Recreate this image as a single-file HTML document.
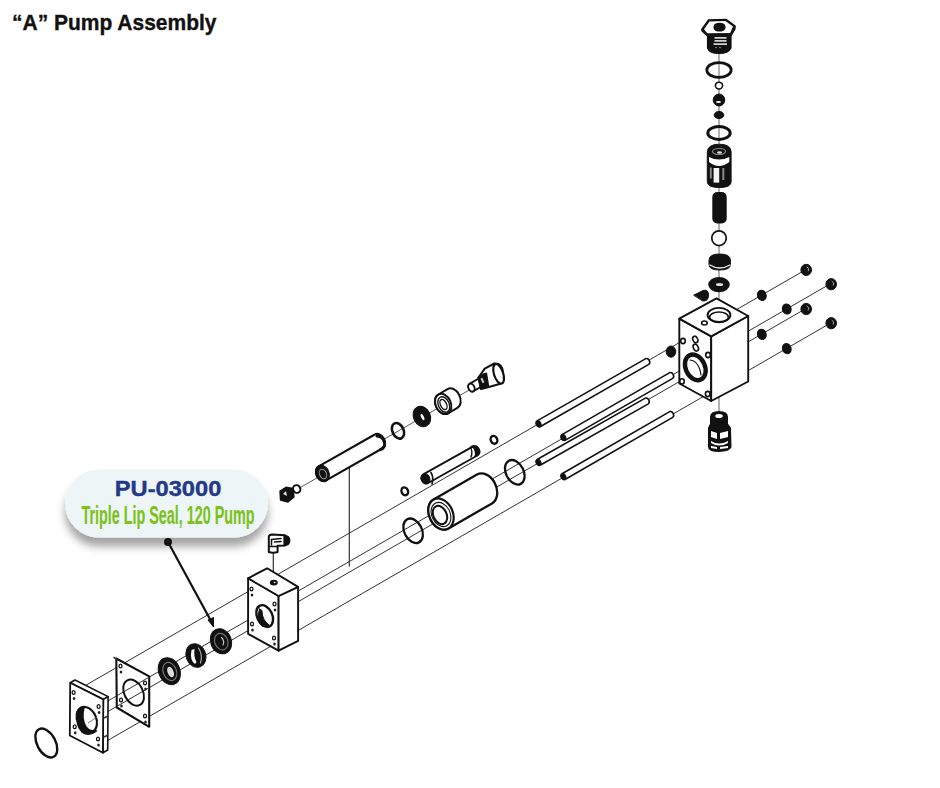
<!DOCTYPE html>
<html><head><meta charset="utf-8">
<style>
html,body{margin:0;padding:0;background:#fff;}
body{width:940px;height:788px;overflow:hidden;position:relative;font-family:"Liberation Sans",sans-serif;}
svg{position:absolute;left:0;top:0;}
</style></head>
<body>
<svg width="940" height="788" viewBox="0 0 940 788">
<defs>
<filter id="sh" x="-20%" y="-30%" width="140%" height="180%">
<feGaussianBlur in="SourceAlpha" stdDeviation="4.5"/>
<feOffset dx="0" dy="9" result="b"/>
<feComponentTransfer><feFuncA type="linear" slope="0.36"/></feComponentTransfer>
<feMerge><feMergeNode/><feMergeNode in="SourceGraphic"/></feMerge>
</filter>
</defs>
<rect width="940" height="788" fill="#fff"/>
<text x="12" y="30.2" font-family="Liberation Sans" font-weight="bold" font-size="22" fill="#111" stroke="#111" stroke-width="0.35" textLength="204.5" lengthAdjust="spacingAndGlyphs">“A” Pump Assembly</text>

<!-- DIAGRAM -->
<g id="dia">
<line x1="80.0" y1="688.6" x2="806.0" y2="269.5" stroke="#333" stroke-width="1"/>
<line x1="100.0" y1="705.5" x2="831.0" y2="283.4" stroke="#333" stroke-width="1"/>
<line x1="100.0" y1="716.1" x2="806.0" y2="308.5" stroke="#333" stroke-width="1"/>
<line x1="100.0" y1="744.9" x2="831.0" y2="322.8" stroke="#333" stroke-width="1"/>
<line x1="298.0" y1="488.9" x2="470.0" y2="389.6" stroke="#444" stroke-width="0.9"/>
<line x1="719.0" y1="30.0" x2="719.0" y2="452.0" stroke="#888" stroke-width="1.3"/>
<line x1="349.3" y1="460.0" x2="349.3" y2="566.5" stroke="#333" stroke-width="1.2"/>
<line x1="273.3" y1="550.0" x2="273.3" y2="582.0" stroke="#333" stroke-width="1.2"/>
<polygon points="70.2,682.8 75.0,680.0 108.1,696.6 103.3,699.4" fill="#fff" stroke="#111" stroke-width="1.6" stroke-linejoin="round"/>
<polygon points="103.3,699.4 108.1,696.6 107.7,750.0 102.9,752.8" fill="#fff" stroke="#111" stroke-width="1.6" stroke-linejoin="round"/>
<polygon points="70.2,682.8 103.3,699.4 102.9,752.8 69.8,735.5" fill="#fff" stroke="#111" stroke-width="1.8" stroke-linejoin="round"/>
<ellipse cx="86.8" cy="719.5" rx="9.4" ry="13.3" transform="rotate(-25 86.8 719.5)" fill="#fff" stroke="#111" stroke-width="2.2"/>
<path d="M78.5,712 Q75,725 82,732 Q89,737 96.5,731 Q90,732 86,727 Q81,719 84,707 Q80,707 78.5,712 Z" fill="#111" stroke="#111" stroke-width="1.6" stroke-linejoin="round" stroke-linecap="round" />
<line x1="88.0" y1="723.0" x2="97.0" y2="717.0" stroke="#666" stroke-width="0.9"/>
<ellipse cx="73.6" cy="692.5" rx="1.5" ry="1.9" transform="rotate(0 73.6 692.5)" fill="none" stroke="#111" stroke-width="1.3"/>
<ellipse cx="74.1" cy="698.5" rx="1.3" ry="1.6" transform="rotate(0 74.1 698.5)" fill="#222" stroke="none" stroke-width="0"/>
<ellipse cx="98.6" cy="706.5" rx="1.5" ry="1.9" transform="rotate(0 98.6 706.5)" fill="none" stroke="#111" stroke-width="1.3"/>
<ellipse cx="99.1" cy="712.5" rx="1.3" ry="1.6" transform="rotate(0 99.1 712.5)" fill="#222" stroke="none" stroke-width="0"/>
<ellipse cx="74.7" cy="726.8" rx="1.5" ry="1.9" transform="rotate(0 74.7 726.8)" fill="none" stroke="#111" stroke-width="1.3"/>
<ellipse cx="75.2" cy="732.8" rx="1.3" ry="1.6" transform="rotate(0 75.2 732.8)" fill="#222" stroke="none" stroke-width="0"/>
<ellipse cx="98.0" cy="739.0" rx="1.5" ry="1.9" transform="rotate(0 98.0 739.0)" fill="none" stroke="#111" stroke-width="1.3"/>
<ellipse cx="98.5" cy="745.0" rx="1.3" ry="1.6" transform="rotate(0 98.5 745.0)" fill="#222" stroke="none" stroke-width="0"/>
<line x1="104.0" y1="718.0" x2="108.0" y2="716.0" stroke="#333" stroke-width="1.6"/>
<line x1="104.0" y1="737.0" x2="108.0" y2="735.0" stroke="#333" stroke-width="1.6"/>
<polygon points="116.3,658.5 149.2,676.3 149.2,726.8 116.8,707.5" fill="#fff" stroke="#111" stroke-width="2.1" stroke-linejoin="round"/>
<line x1="113.5" y1="657.3" x2="117.0" y2="659.3" stroke="#333" stroke-width="1.6"/>
<line x1="116.8" y1="695.8" x2="149.2" y2="677.1" stroke="#333" stroke-width="1"/>
<line x1="116.8" y1="706.4" x2="149.2" y2="687.7" stroke="#333" stroke-width="1"/>
<ellipse cx="133.6" cy="692.6" rx="9.3" ry="13.8" transform="rotate(-27 133.6 692.6)" fill="none" stroke="#111" stroke-width="2.0"/>
<ellipse cx="120.5" cy="666.0" rx="1.5" ry="1.9" transform="rotate(0 120.5 666.0)" fill="none" stroke="#111" stroke-width="1.3"/>
<ellipse cx="121.0" cy="672.0" rx="1.3" ry="1.6" transform="rotate(0 121.0 672.0)" fill="#222" stroke="none" stroke-width="0"/>
<ellipse cx="121.0" cy="700.0" rx="1.5" ry="1.9" transform="rotate(0 121.0 700.0)" fill="none" stroke="#111" stroke-width="1.3"/>
<ellipse cx="121.5" cy="706.0" rx="1.3" ry="1.6" transform="rotate(0 121.5 706.0)" fill="#222" stroke="none" stroke-width="0"/>
<ellipse cx="145.0" cy="683.0" rx="1.5" ry="1.9" transform="rotate(0 145.0 683.0)" fill="none" stroke="#111" stroke-width="1.3"/>
<ellipse cx="145.5" cy="689.0" rx="1.3" ry="1.6" transform="rotate(0 145.5 689.0)" fill="#222" stroke="none" stroke-width="0"/>
<ellipse cx="145.0" cy="716.0" rx="1.5" ry="1.9" transform="rotate(0 145.0 716.0)" fill="none" stroke="#111" stroke-width="1.3"/>
<ellipse cx="145.5" cy="722.0" rx="1.3" ry="1.6" transform="rotate(0 145.5 722.0)" fill="#222" stroke="none" stroke-width="0"/>
<ellipse cx="169.3" cy="671.2" rx="10.6" ry="13.9" transform="rotate(-22 169.3 671.2)" fill="#111" stroke="#111" stroke-width="1"/>
<ellipse cx="169.8" cy="671.5" rx="6.6" ry="9.4" transform="rotate(-22 169.8 671.5)" fill="none" stroke="#777" stroke-width="1.1"/>
<ellipse cx="170.6" cy="672.0" rx="3" ry="5.5" transform="rotate(-22 170.6 672.0)" fill="#ddd" stroke="none" stroke-width="0"/>
<ellipse cx="195.9" cy="655.5" rx="9.8" ry="12" transform="rotate(-20 195.9 655.5)" fill="#111" stroke="#111" stroke-width="1"/>
<path d="M191.5,650 Q189.5,660 195,664 L196.5,662 Q193.5,657 194.5,649 Z" fill="#fff" stroke="none" stroke-width="0" stroke-linejoin="round" stroke-linecap="round" />
<path d="M198.5,648 Q203,655 200.5,663" fill="none" stroke="#bbb" stroke-width="1.1" stroke-linejoin="round" stroke-linecap="round" />
<ellipse cx="221.0" cy="641.3" rx="10.4" ry="12.8" transform="rotate(-22 221.0 641.3)" fill="#111" stroke="#111" stroke-width="1"/>
<ellipse cx="221.3" cy="641.6" rx="6.5" ry="8.5" transform="rotate(-22 221.3 641.6)" fill="none" stroke="#777" stroke-width="1.1"/>
<path d="M221.5,637.5 Q225,641 223,645" fill="none" stroke="#ccc" stroke-width="1.1" stroke-linejoin="round" stroke-linecap="round" />
<polygon points="248.1,578.3 278.6,596.0 278.6,650.7 248.1,633.8" fill="#fff" stroke="#111" stroke-width="1.9" stroke-linejoin="round"/>
<polygon points="278.6,596.0 298.1,586.9 298.1,640.9 278.6,650.7" fill="#fff" stroke="#111" stroke-width="1.9" stroke-linejoin="round"/>
<polygon points="248.1,578.3 267.1,568.3 298.1,586.9 278.6,596.0" fill="#fff" stroke="#111" stroke-width="1.9" stroke-linejoin="round"/>
<ellipse cx="273.8" cy="582.6" rx="3.2" ry="2.1" transform="rotate(0 273.8 582.6)" fill="#111" stroke="#111" stroke-width="1.6"/>
<ellipse cx="274.6" cy="582.4" rx="1.0" ry="0.7" transform="rotate(0 274.6 582.4)" fill="#fff" stroke="none" stroke-width="0"/>
<ellipse cx="264.7" cy="616.0" rx="7.6" ry="11.4" transform="rotate(-25 264.7 616.0)" fill="none" stroke="#111" stroke-width="2.4"/>
<path d="M259.5,609 Q256,620 262,626 Q266,628 269,625 Q262,620 262,611 Z" fill="#111" stroke="#111" stroke-width="1" stroke-linejoin="round" stroke-linecap="round" />
<ellipse cx="251.5" cy="589.0" rx="1.5" ry="1.9" transform="rotate(0 251.5 589.0)" fill="none" stroke="#111" stroke-width="1.3"/>
<ellipse cx="252.0" cy="595.0" rx="1.3" ry="1.6" transform="rotate(0 252.0 595.0)" fill="#222" stroke="none" stroke-width="0"/>
<ellipse cx="252.0" cy="624.0" rx="1.5" ry="1.9" transform="rotate(0 252.0 624.0)" fill="none" stroke="#111" stroke-width="1.3"/>
<ellipse cx="252.5" cy="630.0" rx="1.3" ry="1.6" transform="rotate(0 252.5 630.0)" fill="#222" stroke="none" stroke-width="0"/>
<ellipse cx="274.5" cy="604.0" rx="1.5" ry="1.9" transform="rotate(0 274.5 604.0)" fill="none" stroke="#111" stroke-width="1.3"/>
<ellipse cx="275.0" cy="610.0" rx="1.3" ry="1.6" transform="rotate(0 275.0 610.0)" fill="#222" stroke="none" stroke-width="0"/>
<ellipse cx="274.0" cy="638.0" rx="1.5" ry="1.9" transform="rotate(0 274.0 638.0)" fill="none" stroke="#111" stroke-width="1.3"/>
<ellipse cx="274.5" cy="644.0" rx="1.3" ry="1.6" transform="rotate(0 274.5 644.0)" fill="#222" stroke="none" stroke-width="0"/>
<path d="M268.8,537 Q268.8,534.5 272,534.5 L285,535.3 L285,545.5 L277.6,545.8 L277.6,552 Q273,553.5 268.8,552 Z" fill="#fff" stroke="#111" stroke-width="2.0" stroke-linejoin="round" stroke-linecap="round" />
<path d="M284,535.3 Q289.8,535.5 289.8,540.5 Q289.8,545.5 284,545.7 Z" fill="#111" stroke="#111" stroke-width="1.2" stroke-linejoin="round" stroke-linecap="round" />
<path d="M271.5,539.5 L281,538.5 M271.5,539.5 L271.5,545 M274.5,542 L281,541.5" fill="none" stroke="#111" stroke-width="1.5" stroke-linejoin="round" stroke-linecap="round" />
<path d="M269.5,546.5 L277,546.5" fill="none" stroke="#111" stroke-width="1.4" stroke-linejoin="round" stroke-linecap="round" />
<path d="M280,491 L286,487.3 L293,488.5 L294,497 L288,502 L280.5,500 Z" fill="#111" stroke="#111" stroke-width="1.4" stroke-linejoin="round" stroke-linecap="round" />
<path d="M283,494 L286,491 L287,496 Z" fill="#ddd" stroke="none" stroke-width="0" stroke-linejoin="round" stroke-linecap="round" />
<ellipse cx="296.7" cy="489.0" rx="3.6" ry="3.9" transform="rotate(-25 296.7 489.0)" fill="#fff" stroke="#111" stroke-width="2"/>
<path d="M318.7,466.4 L374.8,434.5 A6.0,7.9 -25 0 1 382.2,448.5 L326.1,480.4 A6.0,7.9 -25 0 1 318.7,466.4 Z" fill="#fff" stroke="#111" stroke-width="2.1" stroke-linejoin="round" stroke-linecap="round" />
<path d="M377,436 Q385.5,437 384.5,446 Q383,449 380.5,449.5" fill="none" stroke="#111" stroke-width="3" stroke-linejoin="round" stroke-linecap="round" />
<ellipse cx="322.4" cy="473.4" rx="6.6" ry="8.6" transform="rotate(-25 322.4 473.4)" fill="#111" stroke="#111" stroke-width="1"/>
<ellipse cx="323.0" cy="474.0" rx="3.4" ry="5" transform="rotate(-25 323.0 474.0)" fill="none" stroke="#999" stroke-width="1"/>
<ellipse cx="398.0" cy="430.8" rx="5.6" ry="8.2" transform="rotate(-25 398.0 430.8)" fill="none" stroke="#111" stroke-width="2.6"/>
<ellipse cx="421.9" cy="416.5" rx="8.4" ry="10.6" transform="rotate(-25 421.9 416.5)" fill="#111" stroke="#111" stroke-width="1"/>
<ellipse cx="422.5" cy="417.0" rx="1.4" ry="3.4" transform="rotate(-25 422.5 417.0)" fill="#fff" stroke="none" stroke-width="0"/>
<path d="M438.3,394.5 L447.6,389.1 A7.6,10.6 -25 0 1 457.4,407.9 L448.1,413.3 A7.6,10.6 -25 0 1 438.3,394.5 Z" fill="#fff" stroke="#111" stroke-width="2.0" stroke-linejoin="round" stroke-linecap="round" />
<ellipse cx="443.2" cy="403.9" rx="7.6" ry="10.6" transform="rotate(-25 443.2 403.9)" fill="#fff" stroke="#111" stroke-width="2.0"/>
<ellipse cx="443.8" cy="404.5" rx="5.4" ry="8.2" transform="rotate(-25 443.8 404.5)" fill="none" stroke="#111" stroke-width="1.4"/>
<ellipse cx="443.5" cy="404.5" rx="3" ry="5.5" transform="rotate(-25 443.5 404.5)" fill="none" stroke="#111" stroke-width="1.4"/>
<path d="M469.5,383.9 L479.1,378.3 A3.0,4.2 -25 0 1 482.9,385.7 L473.3,391.3 A3.0,4.2 -25 0 1 469.5,383.9 Z" fill="#fff" stroke="#111" stroke-width="1.9" stroke-linejoin="round" stroke-linecap="round" />
<ellipse cx="471.4" cy="387.6" rx="3.0" ry="4.2" transform="rotate(-25 471.4 387.6)" fill="#fff" stroke="#111" stroke-width="1.9"/>
<path d="M478.5,377.5 L484.7,368.7 L494.3,363.5 Q502,363 503,372 Q503.5,382 499.6,384 L487.9,387.2 L481,389 Z" fill="#fff" stroke="#111" stroke-width="2.0" stroke-linejoin="round" stroke-linecap="round" />
<ellipse cx="498.6" cy="373.8" rx="4.6" ry="10.2" transform="rotate(-18 498.6 373.8)" fill="#fff" stroke="#111" stroke-width="2.2"/>
<path d="M478,377.5 Q482,373.5 486.5,373 L488.5,385.5 Q484.5,387.5 481,389 Z" fill="#111" stroke="#111" stroke-width="1.2" stroke-linejoin="round" stroke-linecap="round" />
<rect x="481.5" y="378" width="2" height="5" fill="#ccc" transform="rotate(-25 482.5 380.5)"/>
<ellipse cx="404.8" cy="491.3" rx="3.2" ry="4.0" transform="rotate(-25 404.8 491.3)" fill="none" stroke="#111" stroke-width="2.4"/>
<path d="M423.2,474.4 L473.2,446.4 A4.2,5.0 -25 0 1 477.8,455.2 L427.8,483.2 A4.2,5.0 -25 0 1 423.2,474.4 Z" fill="#fff" stroke="#111" stroke-width="1.8" stroke-linejoin="round" stroke-linecap="round" />
<ellipse cx="425.5" cy="478.8" rx="4.3" ry="5.2" transform="rotate(-25 425.5 478.8)" fill="#111" stroke="#111" stroke-width="1"/>
<path d="M431,472.5 Q434,478 432,484" fill="none" stroke="#111" stroke-width="1.6" stroke-linejoin="round" stroke-linecap="round" />
<path d="M472,446 Q479,445 479,452 Q478,456 475,456.5 Q477,451 472,446 Z" fill="#111" stroke="#111" stroke-width="1.2" stroke-linejoin="round" stroke-linecap="round" />
<path d="M470.5,447 Q473,452 471,457" fill="none" stroke="#111" stroke-width="1.4" stroke-linejoin="round" stroke-linecap="round" />
<ellipse cx="494.0" cy="439.8" rx="3.2" ry="4.0" transform="rotate(-25 494.0 439.8)" fill="none" stroke="#111" stroke-width="2.4"/>
<ellipse cx="413.1" cy="530.8" rx="8.8" ry="13" transform="rotate(-27 413.1 530.8)" fill="none" stroke="#111" stroke-width="2.3"/>
<path d="M433.5,499.6 L477.0,474.6 A11.8,16.2 -25 0 1 492.0,503.4 L448.5,528.4 A11.8,16.2 -25 0 1 433.5,499.6 Z" fill="#fff" stroke="#111" stroke-width="2.3" stroke-linejoin="round" stroke-linecap="round" />
<ellipse cx="441.0" cy="514.0" rx="11.8" ry="16.2" transform="rotate(-25 441.0 514.0)" fill="#fff" stroke="#111" stroke-width="2.2"/>
<ellipse cx="441.0" cy="514.5" rx="9.2" ry="12.6" transform="rotate(-25 441.0 514.5)" fill="none" stroke="#111" stroke-width="1.1"/>
<ellipse cx="440.0" cy="515.0" rx="6.6" ry="9.6" transform="rotate(-25 440.0 515.0)" fill="none" stroke="#111" stroke-width="2"/>
<ellipse cx="514.8" cy="472.3" rx="8.8" ry="13" transform="rotate(-27 514.8 472.3)" fill="none" stroke="#111" stroke-width="2.3"/>
<path d="M537.1,420.9 L645.8,358.6 A2.6,3.3 -25 0 1 648.8,364.4 L540.1,426.7 A2.6,3.3 -25 0 1 537.1,420.9 Z" fill="#fff" stroke="#111" stroke-width="1.6" stroke-linejoin="round" stroke-linecap="round" />
<ellipse cx="538.6" cy="423.8" rx="2.3" ry="3.0" transform="rotate(-25 538.6 423.8)" fill="#111" stroke="#111" stroke-width="1"/>
<path d="M562.0,434.6 L669.7,372.6 A2.6,3.3 -25 0 1 672.7,378.4 L565.0,440.4 A2.6,3.3 -25 0 1 562.0,434.6 Z" fill="#fff" stroke="#111" stroke-width="1.6" stroke-linejoin="round" stroke-linecap="round" />
<ellipse cx="563.5" cy="437.5" rx="2.3" ry="3.0" transform="rotate(-25 563.5 437.5)" fill="#111" stroke="#111" stroke-width="1"/>
<path d="M537.1,459.5 L645.3,398.1 A2.6,3.3 -25 0 1 648.3,403.9 L540.1,465.3 A2.6,3.3 -25 0 1 537.1,459.5 Z" fill="#fff" stroke="#111" stroke-width="1.6" stroke-linejoin="round" stroke-linecap="round" />
<ellipse cx="538.6" cy="462.4" rx="2.3" ry="3.0" transform="rotate(-25 538.6 462.4)" fill="#111" stroke="#111" stroke-width="1"/>
<path d="M562.0,473.7 L669.7,411.6 A2.6,3.3 -25 0 1 672.7,417.4 L565.0,479.5 A2.6,3.3 -25 0 1 562.0,473.7 Z" fill="#fff" stroke="#111" stroke-width="1.6" stroke-linejoin="round" stroke-linecap="round" />
<ellipse cx="563.5" cy="476.6" rx="2.3" ry="3.0" transform="rotate(-25 563.5 476.6)" fill="#111" stroke="#111" stroke-width="1"/>
<ellipse cx="671.0" cy="351.6" rx="4.8" ry="5.6" transform="rotate(0 671.0 351.6)" fill="#111" stroke="#111" stroke-width="1"/>
<polygon points="679.3,318.7 711.2,336.4 711.2,401.0 679.3,383.5" fill="#fff" stroke="#111" stroke-width="1.9" stroke-linejoin="round"/>
<polygon points="711.2,336.4 748.2,316.0 748.2,381.5 711.2,401.0" fill="#fff" stroke="#111" stroke-width="1.9" stroke-linejoin="round"/>
<polygon points="679.3,318.7 716.5,298.4 748.2,316.0 711.2,336.4" fill="#fff" stroke="#111" stroke-width="1.9" stroke-linejoin="round"/>
<ellipse cx="719.0" cy="314.9" rx="11.4" ry="7" transform="rotate(0 719.0 314.9)" fill="none" stroke="#111" stroke-width="1.9"/>
<ellipse cx="719.0" cy="317.2" rx="9.4" ry="5.2" transform="rotate(0 719.0 317.2)" fill="none" stroke="#111" stroke-width="1.7"/>
<ellipse cx="704.4" cy="323.0" rx="2.8" ry="2" transform="rotate(0 704.4 323.0)" fill="none" stroke="#111" stroke-width="1.6"/>
<ellipse cx="695.3" cy="367.4" rx="9.6" ry="13.4" transform="rotate(-25 695.3 367.4)" fill="none" stroke="#111" stroke-width="4.4"/>
<path d="M690,360 Q699,361 701,375" fill="none" stroke="#111" stroke-width="1.2" stroke-linejoin="round" stroke-linecap="round" />
<ellipse cx="695.3" cy="339.5" rx="2.4" ry="3.4" transform="rotate(-25 695.3 339.5)" fill="none" stroke="#111" stroke-width="1.6"/>
<ellipse cx="695.8" cy="347.6" rx="2.4" ry="3.6" transform="rotate(-25 695.8 347.6)" fill="none" stroke="#111" stroke-width="1.6"/>
<ellipse cx="683.0" cy="341.0" rx="2.3" ry="2.6" transform="rotate(0 683.0 341.0)" fill="none" stroke="#111" stroke-width="1.6"/>
<ellipse cx="682.0" cy="381.4" rx="2.3" ry="2.6" transform="rotate(0 682.0 381.4)" fill="none" stroke="#111" stroke-width="1.6"/>
<ellipse cx="708.0" cy="355.0" rx="2.3" ry="2.6" transform="rotate(0 708.0 355.0)" fill="none" stroke="#111" stroke-width="1.6"/>
<ellipse cx="707.7" cy="394.0" rx="2.3" ry="2.6" transform="rotate(0 707.7 394.0)" fill="none" stroke="#111" stroke-width="1.6"/>
<path d="M694,295 L703,290.5 Q708.5,289 708.5,295 Q708.5,301.5 703,301 Z" fill="#111" stroke="#111" stroke-width="1" stroke-linejoin="round" stroke-linecap="round" />
<ellipse cx="806.2" cy="269.9" rx="5.3" ry="5.6" transform="rotate(0 806.2 269.9)" fill="#111" stroke="#111" stroke-width="1"/>
<path d="M807.0,267.09999999999997 l1.8,1.6 l-0.6,2.2" fill="none" stroke="#bbb" stroke-width="0.9" stroke-linejoin="round" stroke-linecap="round" />
<ellipse cx="831.2" cy="284.2" rx="5.3" ry="5.6" transform="rotate(0 831.2 284.2)" fill="#111" stroke="#111" stroke-width="1"/>
<path d="M832.0,281.4 l1.8,1.6 l-0.6,2.2" fill="none" stroke="#bbb" stroke-width="0.9" stroke-linejoin="round" stroke-linecap="round" />
<ellipse cx="806.2" cy="309.0" rx="5.3" ry="5.6" transform="rotate(0 806.2 309.0)" fill="#111" stroke="#111" stroke-width="1"/>
<path d="M807.0,306.2 l1.8,1.6 l-0.6,2.2" fill="none" stroke="#bbb" stroke-width="0.9" stroke-linejoin="round" stroke-linecap="round" />
<ellipse cx="831.2" cy="323.2" rx="5.3" ry="5.6" transform="rotate(0 831.2 323.2)" fill="#111" stroke="#111" stroke-width="1"/>
<path d="M832.0,320.4 l1.8,1.6 l-0.6,2.2" fill="none" stroke="#bbb" stroke-width="0.9" stroke-linejoin="round" stroke-linecap="round" />
<ellipse cx="761.8" cy="295.3" rx="4.3" ry="5.2" transform="rotate(-20 761.8 295.3)" fill="#111" stroke="#111" stroke-width="1"/>
<ellipse cx="786.8" cy="309.0" rx="4.3" ry="5.2" transform="rotate(-20 786.8 309.0)" fill="#111" stroke="#111" stroke-width="1"/>
<ellipse cx="761.8" cy="334.3" rx="4.3" ry="5.2" transform="rotate(-20 761.8 334.3)" fill="#111" stroke="#111" stroke-width="1"/>
<ellipse cx="786.8" cy="348.6" rx="4.3" ry="5.2" transform="rotate(-20 786.8 348.6)" fill="#111" stroke="#111" stroke-width="1"/>
<path d="M707.5,44 L707.5,36 L702,31 L701.7,29.4 L708.4,19.9 L726.1,19.3 L735.2,26 L735,29 L731,36 L731,48 Q728.5,53.5 719,53.5 Q709.5,53.5 707.5,48 Z" fill="#111" stroke="#111" stroke-width="1.2" stroke-linejoin="round" stroke-linecap="round" />
<path d="M704,29.2 L709.5,21.6 L725.4,21.1 L733,26.4 L730.2,33 L707.2,33.2 Z" fill="#fff" stroke="none" stroke-width="0" stroke-linejoin="round" stroke-linecap="round" />
<path d="M713.5,26.5 Q714,22.8 719.5,22.8 Q725,22.8 725.5,26.5 Q726,29.5 723,31 Q719.5,32.2 716,31 Q713,29.5 713.5,26.5 Z" fill="#111" stroke="none" stroke-width="0" stroke-linejoin="round" stroke-linecap="round" />
<rect x="714.5" y="37.2" width="12" height="1.4" fill="#fff"/>
<rect x="714.5" y="40.2" width="12" height="1.4" fill="#fff"/>
<rect x="713.5" y="43.4" width="13.5" height="1.4" fill="#fff"/>
<rect x="715" y="47" width="2" height="1.2" fill="#777"/><rect x="719" y="47" width="2" height="1.2" fill="#777"/>
<ellipse cx="719.0" cy="70.0" rx="12.2" ry="7.4" transform="rotate(0 719.0 70.0)" fill="none" stroke="#111" stroke-width="2.8"/>
<ellipse cx="719.0" cy="85.6" rx="3.6" ry="3.4" transform="rotate(0 719.0 85.6)" fill="#fff" stroke="#111" stroke-width="1.6"/>
<ellipse cx="719.0" cy="100.0" rx="5.8" ry="6" transform="rotate(0 719.0 100.0)" fill="#111" stroke="#111" stroke-width="1"/>
<ellipse cx="718.5" cy="102.0" rx="2.5" ry="1.1" transform="rotate(0 718.5 102.0)" fill="#fff" stroke="none" stroke-width="0"/>
<ellipse cx="719.0" cy="115.0" rx="4.8" ry="3.6" transform="rotate(0 719.0 115.0)" fill="#111" stroke="#111" stroke-width="1"/>
<ellipse cx="719.0" cy="133.0" rx="11.2" ry="6.4" transform="rotate(0 719.0 133.0)" fill="none" stroke="#111" stroke-width="3"/>
<path d="M707.3,152 Q707.5,144.2 719.2,144.2 Q731,144.2 731.1,152 L731.1,182 Q731,187.5 719.2,187.5 Q707.5,187.5 707.3,182 Z" fill="#111" stroke="#111" stroke-width="1" stroke-linejoin="round" stroke-linecap="round" />
<path d="M709,157 Q719,162 729.3,157 L729.3,162 Q719,170 709,162 Z" fill="#fff" stroke="none" stroke-width="0" stroke-linejoin="round" stroke-linecap="round" />
<rect x="713.6" y="168" width="5.6" height="14.6" fill="#f4f4f4"/>
<rect x="722.3" y="168" width="2" height="12" fill="#888"/>
<rect x="709.8" y="167.5" width="2" height="11" fill="#888"/>
<ellipse cx="719.0" cy="151.5" rx="6.5" ry="3" transform="rotate(0 719.0 151.5)" fill="none" stroke="#888" stroke-width="1.2"/>
<ellipse cx="719.5" cy="152.5" rx="2.5" ry="1.2" transform="rotate(0 719.5 152.5)" fill="#ddd" stroke="none" stroke-width="0"/>
<rect x="712.3" y="192" width="14.4" height="31.5" rx="5" fill="#111"/>
<ellipse cx="719.0" cy="238.2" rx="7.2" ry="7.4" transform="rotate(0 719.0 238.2)" fill="#fff" stroke="#111" stroke-width="1.7"/>
<path d="M709,260 Q709,254 719.5,254 Q730.4,254 730.4,260 L730.4,265 Q730,270 719.5,270 Q709,270 709,265 Z" fill="#111" stroke="#111" stroke-width="1" stroke-linejoin="round" stroke-linecap="round" />
<path d="M710,265 Q719.5,271 730,265" fill="none" stroke="#eee" stroke-width="1.3" stroke-linejoin="round" stroke-linecap="round" />
<ellipse cx="719.0" cy="284.6" rx="10.8" ry="7.6" transform="rotate(0 719.0 284.6)" fill="#111" stroke="none" stroke-width="0"/>
<ellipse cx="719.5" cy="284.6" rx="3.6" ry="1.5" transform="rotate(0 719.5 284.6)" fill="#ddd" stroke="none" stroke-width="0"/>
<path d="M711,417 Q711,412 719,412 Q727,412 727,417 L727,424 L730,428 L730.5,447 Q729,451 719,451 Q709,451 709,447 L709,428 L711,424 Z" fill="#111" stroke="#111" stroke-width="2" stroke-linejoin="round" stroke-linecap="round" />
<ellipse cx="719.0" cy="416.0" rx="3.8" ry="2" transform="rotate(0 719.0 416.0)" fill="#fff" stroke="none" stroke-width="0"/>
<path d="M711,431 L717,433 L717,439 L711,437 Z M720,433 L728,431 L728,437 L720,439 Z M711,441 Q719,446 728,441 L728,443 Q719,448 711,443 Z M711,446 L717,447 L717,449 L711,448 Z M720,447 L728,446 L728,448 L720,449 Z" fill="#fff" stroke="none" stroke-width="0" stroke-linejoin="round" stroke-linecap="round" />
<ellipse cx="46.3" cy="743.0" rx="9.2" ry="15.6" transform="rotate(-28 46.3 743.0)" fill="none" stroke="#111" stroke-width="2.4"/>
</g>

<!-- LABEL -->
<rect x="65" y="469.5" width="203" height="68" rx="34" fill="#edf5f7" filter="url(#sh)"/>
<text x="114.8" y="495.6" font-family="Liberation Sans" font-weight="bold" font-size="22" fill="#24388a" stroke="#24388a" stroke-width="0.4" textLength="106.5" lengthAdjust="spacingAndGlyphs">PU-03000</text>
<text x="81.5" y="523.8" font-family="Liberation Sans" font-weight="bold" font-size="25" fill="#7cc21a" stroke="#7cc21a" stroke-width="0.15" textLength="173" lengthAdjust="spacingAndGlyphs">Triple Lip Seal, 120 Pump</text>
<line x1="168" y1="542" x2="211" y2="621" stroke="#111" stroke-width="2.2"/>
<circle cx="168" cy="542" r="4" fill="#111"/>
<path d="M208,620 L213.5,627 L213.5,617.5 Z" fill="#111" stroke="#111" stroke-width="1"/>
</svg>
</body></html>
